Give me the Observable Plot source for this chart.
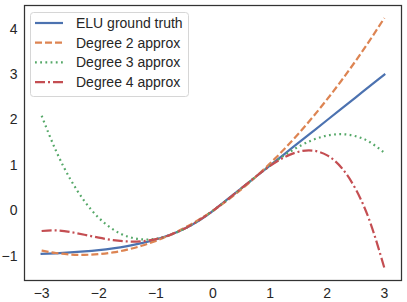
<!DOCTYPE html>
<html>
<head>
<meta charset="utf-8">
<script src="https://cdn.jsdelivr.net/npm/d3@7"></script>
<script src="https://cdn.jsdelivr.net/npm/@observablehq/plot@0.6"></script>
<style>
  html, body { margin: 0; padding: 0; background: #fff; }
  #chart { position: relative; width: 407px; height: 302px; }
  svg { font-family: "Liberation Sans", Arial, sans-serif; }
</style>
</head>
<body>
<div id="chart"></div>
<script>
const xs = [-3, -2.75, -2.5, -2.25, -2, -1.75, -1.5, -1.25, -1, -0.75, -0.5, -0.25, 0,
            0.25, 0.5, 0.75, 1, 1.25, 1.5, 1.75, 2, 2.25, 2.5, 2.75, 3];
const elu = [-0.9502, -0.9361, -0.9179, -0.8946, -0.8647, -0.8262, -0.7769, -0.7135, -0.6321, -0.5276, -0.3935, -0.2212, 0,
             0.25, 0.5, 0.75, 1, 1.25, 1.5, 1.75, 2, 2.25, 2.5, 2.75, 3];
const deg2 = [-0.8749, -0.9302, -0.9621, -0.9707, -0.9558, -0.9177, -0.8561, -0.7712, -0.6630, -0.5313, -0.3763, -0.1980, 0.0038,
              0.2289, 0.4773, 0.7491, 1.0443, 1.3629, 1.7048, 2.0701, 2.4587, 2.8707, 3.3061, 3.7649, 4.2470];
const deg3 = [2.0937, 1.3254, 0.7019, 0.2122, -0.1548, -0.4100, -0.5646, -0.6295, -0.6158, -0.5346, -0.3969, -0.2138, 0.0038,
              0.2447, 0.4979, 0.7524, 0.9972, 1.2211, 1.4132, 1.5624, 1.6576, 1.6879, 1.6421, 1.5093, 1.2783];
const deg4 = [-0.4449, -0.4321, -0.4673, -0.5274, -0.5927, -0.6466, -0.6759, -0.6706, -0.6237, -0.5319, -0.3947, -0.2150, 0.0008,
              0.2434, 0.5002, 0.7552, 0.9893, 1.1800, 1.3018, 1.3258, 1.2197, 0.9483, 0.4730, -0.2482, -1.2603];
const seriesNames = ["ELU ground truth", "Degree 2 approx", "Degree 3 approx", "Degree 4 approx"];
const seriesValues = [elu, deg2, deg3, deg4];
const colors = ["#4C72B0", "#DD8452", "#55A868", "#C44E52"];
const dashes = [null, "7,3", "1.8,3.4", "10,3,2,3"];
const xTicks = [-3, -2, -1, 0, 1, 2, 3];
const yTicks = [-1, 0, 1, 2, 3, 4];

const series = seriesNames.map((name, i) => ({
  name, color: colors[i], dash: dashes[i],
  rows: xs.map((x, j) => ({x, y: seriesValues[i][j]}))
}));

const plot = Plot.plot({
  width: 407,
  height: 302,
  marginLeft: 24,
  marginRight: 6,
  marginTop: 5,
  marginBottom: 22,
  style: {fontFamily: '"Liberation Sans", Arial, sans-serif', fontSize: "14px", color: "#262626", background: "white"},
  x: {domain: [-3.3, 3.3], ticks: xTicks, tickFormat: "d", tickSize: 0, tickPadding: 8, label: null},
  y: {domain: [-1.5357, 4.5223], ticks: yTicks, tickFormat: "d", tickSize: 0, tickPadding: 7, label: null},
  marks: [
    ...series.map(s => Plot.line(s.rows, {
      x: "x", y: "y", stroke: s.color, strokeWidth: 2.2,
      strokeDasharray: s.dash, curve: "natural",
      strokeLinecap: s.dash ? "butt" : "square"
    })),
    Plot.frame({stroke: "#333", strokeWidth: 1.25})
  ]
});
document.getElementById("chart").appendChild(plot);

// legend inside the axes
const svg = d3.select(plot);
const lg = svg.append("g").attr("text-anchor", "start");
lg.append("rect")
  .attr("x", 30.5).attr("y", 12.5).attr("width", 158).attr("height", 84)
  .attr("rx", 3).attr("fill", "white").attr("fill-opacity", 0.8)
  .attr("stroke", "#d6d6d6").attr("stroke-width", 1);
series.forEach((s, i) => {
  const cy = 23 + i * 19.7;
  lg.append("line")
    .attr("x1", 35).attr("x2", 63).attr("y1", cy).attr("y2", cy)
    .attr("stroke", s.color).attr("stroke-width", 2.2)
    .attr("stroke-dasharray", s.dash).attr("stroke-linecap", "butt");
  lg.append("text")
    .attr("x", 76).attr("y", cy).attr("dy", "0.35em")
    .attr("text-anchor", "start")
    .attr("fill", "#262626").attr("font-size", "14px")
    .text(s.name);
});
</script>
</body>
</html>
